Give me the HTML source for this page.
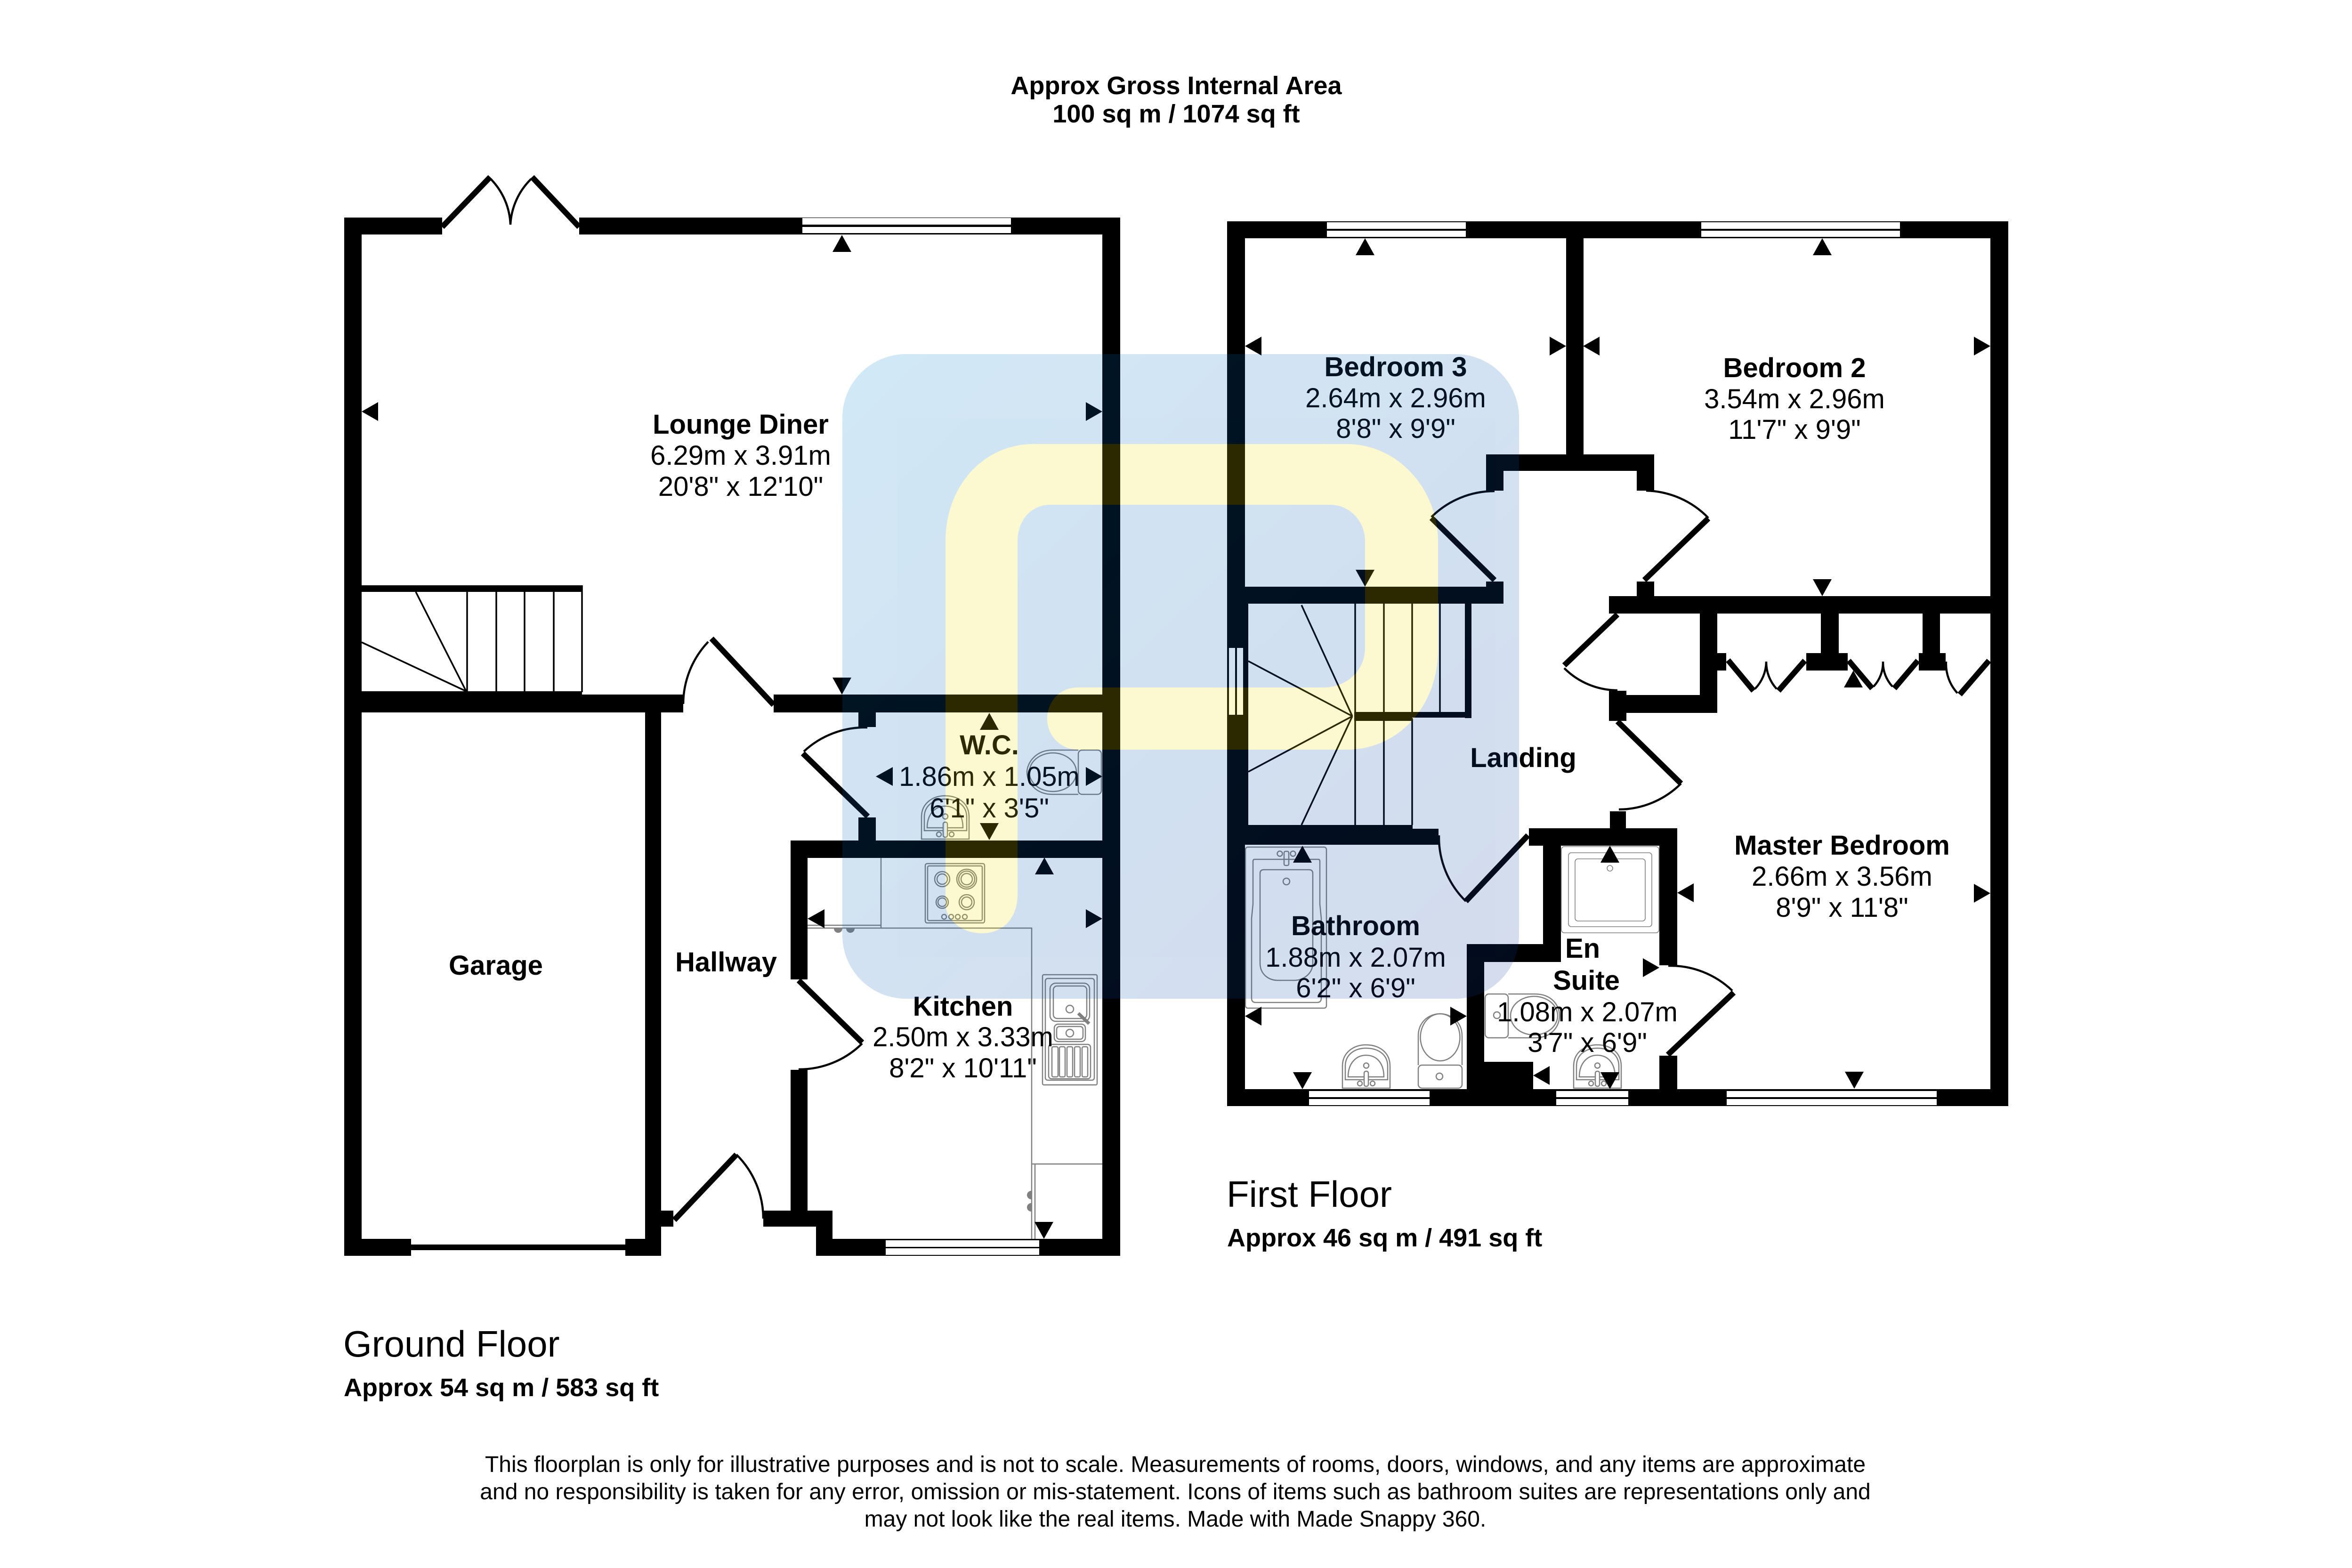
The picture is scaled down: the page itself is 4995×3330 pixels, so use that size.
<!DOCTYPE html>
<html lang="en"><head><meta charset="utf-8"><title>Floorplan</title>
<style>
html,body{margin:0;padding:0;background:#fff;width:4995px;height:3330px;overflow:hidden}
svg{display:block}
text{font-family:"Liberation Sans",sans-serif;fill:#000}
.t{font-size:58px;text-anchor:middle}
.b{font-weight:bold}
.h{font-size:54px;font-weight:bold}
.n{font-size:48px;text-anchor:middle}
.f{fill:none;stroke:#808080;stroke-width:2.5}
.s{fill:none;stroke:#808080;stroke-width:1.6}
.l{fill:none;stroke:#000;stroke-width:12}
.a{fill:none;stroke:#000;stroke-width:4.5}
.st{fill:none;stroke:#000;stroke-width:3.5}
</style></head><body>
<svg xmlns="http://www.w3.org/2000/svg" width="4995" height="3330" viewBox="0 0 4995 3330">
<defs>
<linearGradient id="wm" x1="0" y1="0" x2="1" y2="1"><stop offset="0" stop-color="#0080CD"/><stop offset="1" stop-color="#0F3C9C"/></linearGradient>
<g id="basin">
<path class="f" d="M0 92V45C0 15 25 0 50 0C77 0 101 15 101 45V92Z"/>
<path class="f" d="M6 74V45C6 20 27 7 50 7C75 7 96 20 96 45V74Z"/>
<path class="f" d="M12 68C12 38 30 22 50 22C72 22 88 38 88 68Z"/>
<circle class="f" cx="50.5" cy="44" r="5.5"/>
<circle class="f" cx="37" cy="82" r="5"/><circle class="f" cx="64" cy="82" r="5"/>
<rect x="46" y="56" width="9" height="32" rx="4" fill="#fff" stroke="#808080" stroke-width="2.5"/>
</g>
</defs>
<rect width="4995" height="3330" fill="#fff"/>

<!-- kitchen fittings -->
<path class="f" d="M1871 1822V1971M1715 1971H2191V2631M1715 1965H1871M2191 2472H2341M2198 2472V2631"/>
<path d="M1771 1972a9 9 0 0 0 18 0ZM1797 1972a9 9 0 0 0 18 0ZM2190 2529a9 9 0 0 0 0 18ZM2190 2555a9 9 0 0 0 0 18Z" fill="#808080"/>
<rect class="f" x="1965" y="1834" width="126" height="126" rx="4"/><rect class="f" x="1970" y="1839" width="116" height="116" rx="3"/>
<g class="f"><circle cx="2001" cy="1867" r="16"/><circle cx="2001" cy="1867" r="11"/><circle cx="2053" cy="1867" r="21"/><circle cx="2053" cy="1867" r="17"/><circle cx="2053" cy="1867" r="12"/><circle cx="2001" cy="1916" r="13"/><circle cx="2001" cy="1916" r="9"/><circle cx="2053" cy="1916" r="16"/><circle cx="2053" cy="1916" r="11"/><circle cx="2005" cy="1947" r="5"/><circle cx="2020" cy="1947" r="5"/><circle cx="2034" cy="1947" r="5"/><circle cx="2049" cy="1947" r="5"/></g>
<g class="f"><rect x="2214" y="2070" width="116" height="234" rx="3"/><rect x="2220" y="2078" width="104" height="216" rx="5"/><rect x="2230" y="2088" width="84" height="81" rx="12"/><rect x="2237" y="2094" width="71" height="69" rx="8"/><circle cx="2272" cy="2143" r="8"/><rect x="2239" y="2175" width="66" height="37" rx="8"/><rect x="2244" y="2180" width="56" height="27" rx="6"/><circle cx="2272" cy="2194" r="8"/><path d="M2290 2152L2313 2174" stroke-width="7"/><rect x="2227" y="2218" width="89" height="73" rx="6"/><rect x="2234" y="2223" width="13" height="64" rx="3"/><rect x="2250" y="2223" width="12" height="64" rx="3"/><rect x="2266" y="2223" width="12" height="64" rx="3"/><rect x="2282" y="2223" width="12" height="64" rx="3"/><rect x="2298" y="2223" width="12" height="64" rx="3"/></g>

<!-- wc fittings -->
<rect class="f" x="2290" y="1593" width="49" height="94" rx="8"/>
<path class="f" d="M2290 1593H2235C2200 1593 2181 1620 2181 1640C2181 1662 2200 1687 2235 1687H2290"/>
<ellipse class="f" cx="2236" cy="1640" rx="50" ry="41"/>
<use href="#basin" x="1957" y="1690"/>

<!-- bathroom fittings -->
<rect class="f" x="2645" y="1799" width="172" height="342" rx="5"/>
<path class="f" d="M2664 1825H2800Q2803 1825 2803 1830V1920L2806 1950V2120Q2806 2129 2797 2129H2667Q2658 2129 2658 2120V1950L2661 1920V1830Q2661 1825 2664 1825Z"/>
<path class="f" d="M2684 1847H2780Q2788 1847 2788 1855V2045C2788 2070 2765 2082 2750 2082H2714C2695 2082 2676 2070 2676 2045V1855Q2676 1847 2684 1847Z"/>
<ellipse class="f" cx="2732" cy="1872" rx="7" ry="7"/>
<circle class="f" cx="2718" cy="1813" r="5.5"/><circle class="f" cx="2746" cy="1813" r="5.5"/><rect class="f" x="2727" y="1808" width="10" height="30" rx="3"/>
<path class="f" d="M3012 2262V2200C3012 2170 3035 2153 3058 2153C3082 2153 3105 2170 3105 2200V2262"/>
<ellipse class="f" cx="3058.5" cy="2203" rx="42" ry="50"/>
<rect class="f" x="3012" y="2262" width="93" height="49" rx="8"/><circle class="f" cx="3057" cy="2286" r="7"/>
<use href="#basin" x="2851" y="2219"/>

<!-- en suite fittings -->
<rect class="s" x="3316" y="1798" width="207" height="183" rx="6"/><rect class="s" x="3331" y="1811" width="177" height="157" rx="6"/><rect class="s" x="3345" y="1824" width="149" height="132" rx="6"/><circle class="s" cx="3419" cy="1844" r="6"/>
<rect class="f" x="3154" y="2111" width="49" height="93" rx="8"/>
<path class="f" d="M3203 2111H3260C3295 2111 3312 2135 3312 2157C3312 2180 3295 2204 3260 2204H3203"/>
<ellipse class="f" cx="3258" cy="2157" rx="50" ry="41"/><circle class="f" cx="3179" cy="2156" r="7"/>
<use href="#basin" x="3342" y="2219"/>

<!-- stairs ground -->
<path class="st" d="M992 1257V1470M1054 1257V1470M1114 1257V1470M1176 1257V1470M1236 1243V1470M883 1257L990 1468M768 1364L990 1468"/>
<!-- stairs first -->
<path class="st" d="M2878 1282V1520M2939 1282V1520M2999 1282V1520M3058 1282V1520M2878 1525V1752M2939 1525V1752M2999 1525V1752M2872 1521L2764 1285M2872 1521L2651 1404M2872 1521L2651 1639M2872 1521L2764 1752"/>

<!-- walls ground -->
<g fill="#000">
<rect x="731" y="462" width="208" height="36"/><rect x="1230" y="462" width="1149" height="36"/>
<rect x="731" y="462" width="37" height="2205"/><rect x="2341" y="462" width="38" height="2205"/>
<rect x="768" y="1243" width="468" height="14"/>
<rect x="768" y="1468" width="468" height="10"/>
<rect x="768" y="1475" width="683" height="38"/><rect x="1643" y="1475" width="698" height="38"/>
<rect x="1370" y="1513" width="34" height="1154"/>
<rect x="731" y="2631" width="142" height="36"/><rect x="873" y="2643" width="455" height="12"/><rect x="1328" y="2631" width="76" height="36"/>
<rect x="1404" y="2571" width="26" height="34"/>
<rect x="1621" y="2571" width="147" height="34"/><rect x="1733" y="2571" width="35" height="96"/>
<rect x="1733" y="2631" width="646" height="36"/>
<rect x="1679" y="1785" width="662" height="37"/>
<rect x="1679" y="1785" width="36" height="295"/><rect x="1679" y="2272" width="36" height="333"/>
<rect x="1823" y="1513" width="37" height="31"/><rect x="1823" y="1736" width="37" height="49"/>

<!-- walls first -->
<rect x="2606" y="470" width="1659" height="36"/>
<rect x="2606" y="470" width="38" height="1879"/><rect x="2606" y="1282" width="45" height="470"/>
<rect x="4227" y="470" width="38" height="1879"/>
<rect x="3326" y="506" width="37" height="459"/>
<rect x="3156" y="965" width="357" height="35"/><rect x="3156" y="965" width="37" height="77"/><rect x="3476" y="965" width="37" height="77"/>
<rect x="3156" y="1235" width="37" height="47"/><rect x="2644" y="1246" width="549" height="36"/>
<rect x="3476" y="1235" width="37" height="40"/><rect x="3417" y="1266" width="810" height="37"/>
<rect x="3111" y="1282" width="14" height="243"/><rect x="2876" y="1512" width="123" height="19"/><rect x="2999" y="1512" width="120" height="12"/>
<rect x="3610" y="1303" width="37" height="211"/><rect x="3417" y="1476" width="230" height="38"/><rect x="3417" y="1467" width="37" height="64"/>
<rect x="3647" y="1387" width="19" height="37"/>
<rect x="3867" y="1303" width="38" height="84"/><rect x="3836" y="1387" width="88" height="37"/>
<rect x="4083" y="1303" width="37" height="84"/><rect x="4075" y="1387" width="57" height="37"/>
<rect x="3419" y="1723" width="34" height="40"/>
<rect x="3247" y="1759" width="315" height="37"/>
<rect x="3524" y="1759" width="38" height="291"/><rect x="3524" y="2242" width="38" height="71"/>
<rect x="3277" y="1796" width="38" height="247"/><rect x="3115" y="2005" width="200" height="38"/>
<rect x="3115" y="2005" width="37" height="340"/><rect x="3152" y="2255" width="104" height="60"/>
<rect x="2644" y="1752" width="356" height="42"/><rect x="3000" y="1760" width="55" height="34"/>
<rect x="2606" y="2313" width="1659" height="36"/>
</g>

<!-- windows -->
<g fill="#fff">
<rect x="1704" y="463" width="443" height="14"/><rect x="1704" y="482" width="443" height="13"/>
<rect x="1881" y="2634" width="326" height="14"/><rect x="1881" y="2651" width="326" height="14"/>
<rect x="2818" y="472" width="295" height="14"/><rect x="2818" y="490" width="295" height="13"/>
<rect x="3613" y="472" width="422" height="14"/><rect x="3613" y="490" width="422" height="13"/>
<rect x="2780" y="2317" width="256" height="13"/><rect x="2780" y="2334" width="256" height="13"/>
<rect x="3305" y="2317" width="153" height="13"/><rect x="3305" y="2334" width="153" height="13"/>
<rect x="3667" y="2317" width="446" height="13"/><rect x="3667" y="2334" width="446" height="13"/>
<rect x="2610" y="1376" width="13" height="142"/><rect x="2627" y="1376" width="13" height="142"/>
</g>

<!-- doors -->
<path class="l" d="M939 482L1041 376M1230 482L1130 376M1643 1497L1511 1356M1432 2591L1564 2452M1696 2082L1831 2214M1843 1734L1705 1600M3174 1232L3040 1100M3492 1232L3628 1101M3435 1305L3322 1413M3435 1532L3570 1664M3245 1774L3113 1914M3542 2240L3682 2108M3670 1402L3724 1467M3833 1403L3777 1467M3926 1403L3976 1462M4073 1403L4023 1462M4224 1403L4162 1475"/>
<path class="a" d="M1042 380A146 146 0 0 1 1084 477M1128 380A146 146 0 0 0 1084 477M1504 1363A193 193 0 0 0 1451 1495M1564 2452A192 192 0 0 1 1621 2588M1831 2216A190 190 0 0 1 1696 2271M1707 1596A190 190 0 0 1 1842 1545M3040 1098A189 189 0 0 1 3174 1043M3628 1100A190 190 0 0 0 3496 1042M3322 1419A160 160 0 0 0 3435 1466M3570 1664A188 188 0 0 1 3438 1719M3113 1914A190 190 0 0 1 3056 1774M3679 2104A190 190 0 0 0 3543 2051M3727 1463A84 84 0 0 0 3751 1405M3773 1463A84 84 0 0 1 3751 1405M3979 1458A75 75 0 0 0 3999 1405M4019 1458A75 75 0 0 1 3999 1405M4157 1472A92 92 0 0 1 4133 1405"/>

<!-- measure arrows -->
<path fill="#000" d="M1788 499l-20 36h40ZM2101 1514l-20 36h40ZM2218 1821l-20 36h40ZM2899 506l-20 36h40ZM3870 506l-20 36h40ZM2766 1796l-20 36h40ZM3419 1796l-20 36h40ZM3936 1424l-20 36h40Z
M1788 1475l-20 -36h40ZM2101 1784l-20 -36h40ZM2217 2631l-20 -36h40ZM2899 1246l-20 -36h40ZM3870 1266l-20 -36h40ZM2766 2313l-20 -36h40ZM3419 2313l-20 -36h40ZM3938 2312l-20 -36h40Z
M768 874l35 -20v40ZM1860 1649l36 -20v40ZM1715 1951l36 -20v40ZM2644 735l35 -20v40ZM3362 735l35 -20v40ZM2644 2158l35 -20v40ZM3256 2284l35 -20v40ZM3562 1896l35 -20v40Z
M2341 874l-35 -20v40ZM2341 1649l-35 -20v40ZM2341 1951l-35 -20v40ZM3326 735l-35 -20v40ZM4227 735l-35 -20v40ZM3115 2158l-35 -20v40ZM3524 2055l-35 -20v40ZM4227 1897l-35 -20v40Z"/>

<!-- labels -->
<text class="h" x="2498" y="200" text-anchor="middle">Approx Gross Internal Area</text>
<text class="h" x="2498" y="260" text-anchor="middle">100 sq m / 1074 sq ft</text>

<text class="t b" x="1573" y="921">Lounge Diner</text><text class="t" x="1573" y="987">6.29m x 3.91m</text><text class="t" x="1573" y="1053">20'8" x 12'10"</text>
<text class="t b" x="1053" y="2070">Garage</text>
<text class="t b" x="1542" y="2063">Hallway</text>
<text class="t b" x="2101" y="1602">W.C.</text><text class="t" x="2101" y="1669">1.86m x 1.05m</text><text class="t" x="2101" y="1736">6'1" x 3'5"</text>
<text class="t b" x="2045" y="2157">Kitchen</text><text class="t" x="2045" y="2222">2.50m x 3.33m</text><text class="t" x="2045" y="2288">8'2" x 10'11"</text>
<text class="t b" x="2964" y="799">Bedroom 3</text><text class="t" x="2964" y="865">2.64m x 2.96m</text><text class="t" x="2964" y="930">8'8" x 9'9"</text>
<text class="t b" x="3811" y="801">Bedroom 2</text><text class="t" x="3811" y="867">3.54m x 2.96m</text><text class="t" x="3811" y="932">11'7" x 9'9"</text>
<text class="t b" x="3235" y="1629">Landing</text>
<text class="t b" x="2879" y="1986">Bathroom</text><text class="t" x="2879" y="2053">1.88m x 2.07m</text><text class="t" x="2879" y="2118">6'2" x 6'9"</text>
<text class="t b" x="3361" y="2034">En</text><text class="t b" x="3369" y="2102">Suite</text><text class="t" x="3371" y="2169">1.08m x 2.07m</text><text class="t" x="3371" y="2234">3'7" x 6'9"</text>
<text class="t b" x="3912" y="1815">Master Bedroom</text><text class="t" x="3912" y="1881">2.66m x 3.56m</text><text class="t" x="3912" y="1947">8'9" x 11'8"</text>

<text x="729" y="2881" font-size="78">Ground Floor</text>
<text class="h" x="730" y="2965">Approx 54 sq m / 583 sq ft</text>
<text x="2605" y="2563" font-size="78">First Floor</text>
<text class="h" x="2606" y="2647">Approx 46 sq m / 491 sq ft</text>

<text class="n" x="2496" y="3126">This floorplan is only for illustrative purposes and is not to scale. Measurements of rooms, doors, windows, and any items are approximate</text>
<text class="n" x="2496" y="3184">and no responsibility is taken for any error, omission or mis-statement. Icons of items such as bathroom suites are representations only and</text>
<text class="n" x="2496" y="3242">may not look like the real items. Made with Made Snappy 360.</text>

<!-- watermark -->
<g opacity="0.18">
<rect x="1789" y="752" width="1437" height="1369" rx="135" fill="url(#wm)"/>
<path fill="#F4DE00" d="M2008 1920V1150C2008 1030 2090 943 2195 943H2860C2970 943 3054 1040 3054 1150V1380C3054 1500 2970 1592 2860 1592H2290C2250 1592 2224 1560 2224 1527C2224 1490 2250 1460 2290 1460H2810C2860 1460 2899 1425 2899 1375V1150C2899 1105 2865 1072 2825 1072H2230C2190 1072 2161 1105 2161 1150V1900C2161 1950 2130 1982 2085 1982C2040 1982 2008 1950 2008 1920Z"/>
</g>
</svg>
</body></html>
